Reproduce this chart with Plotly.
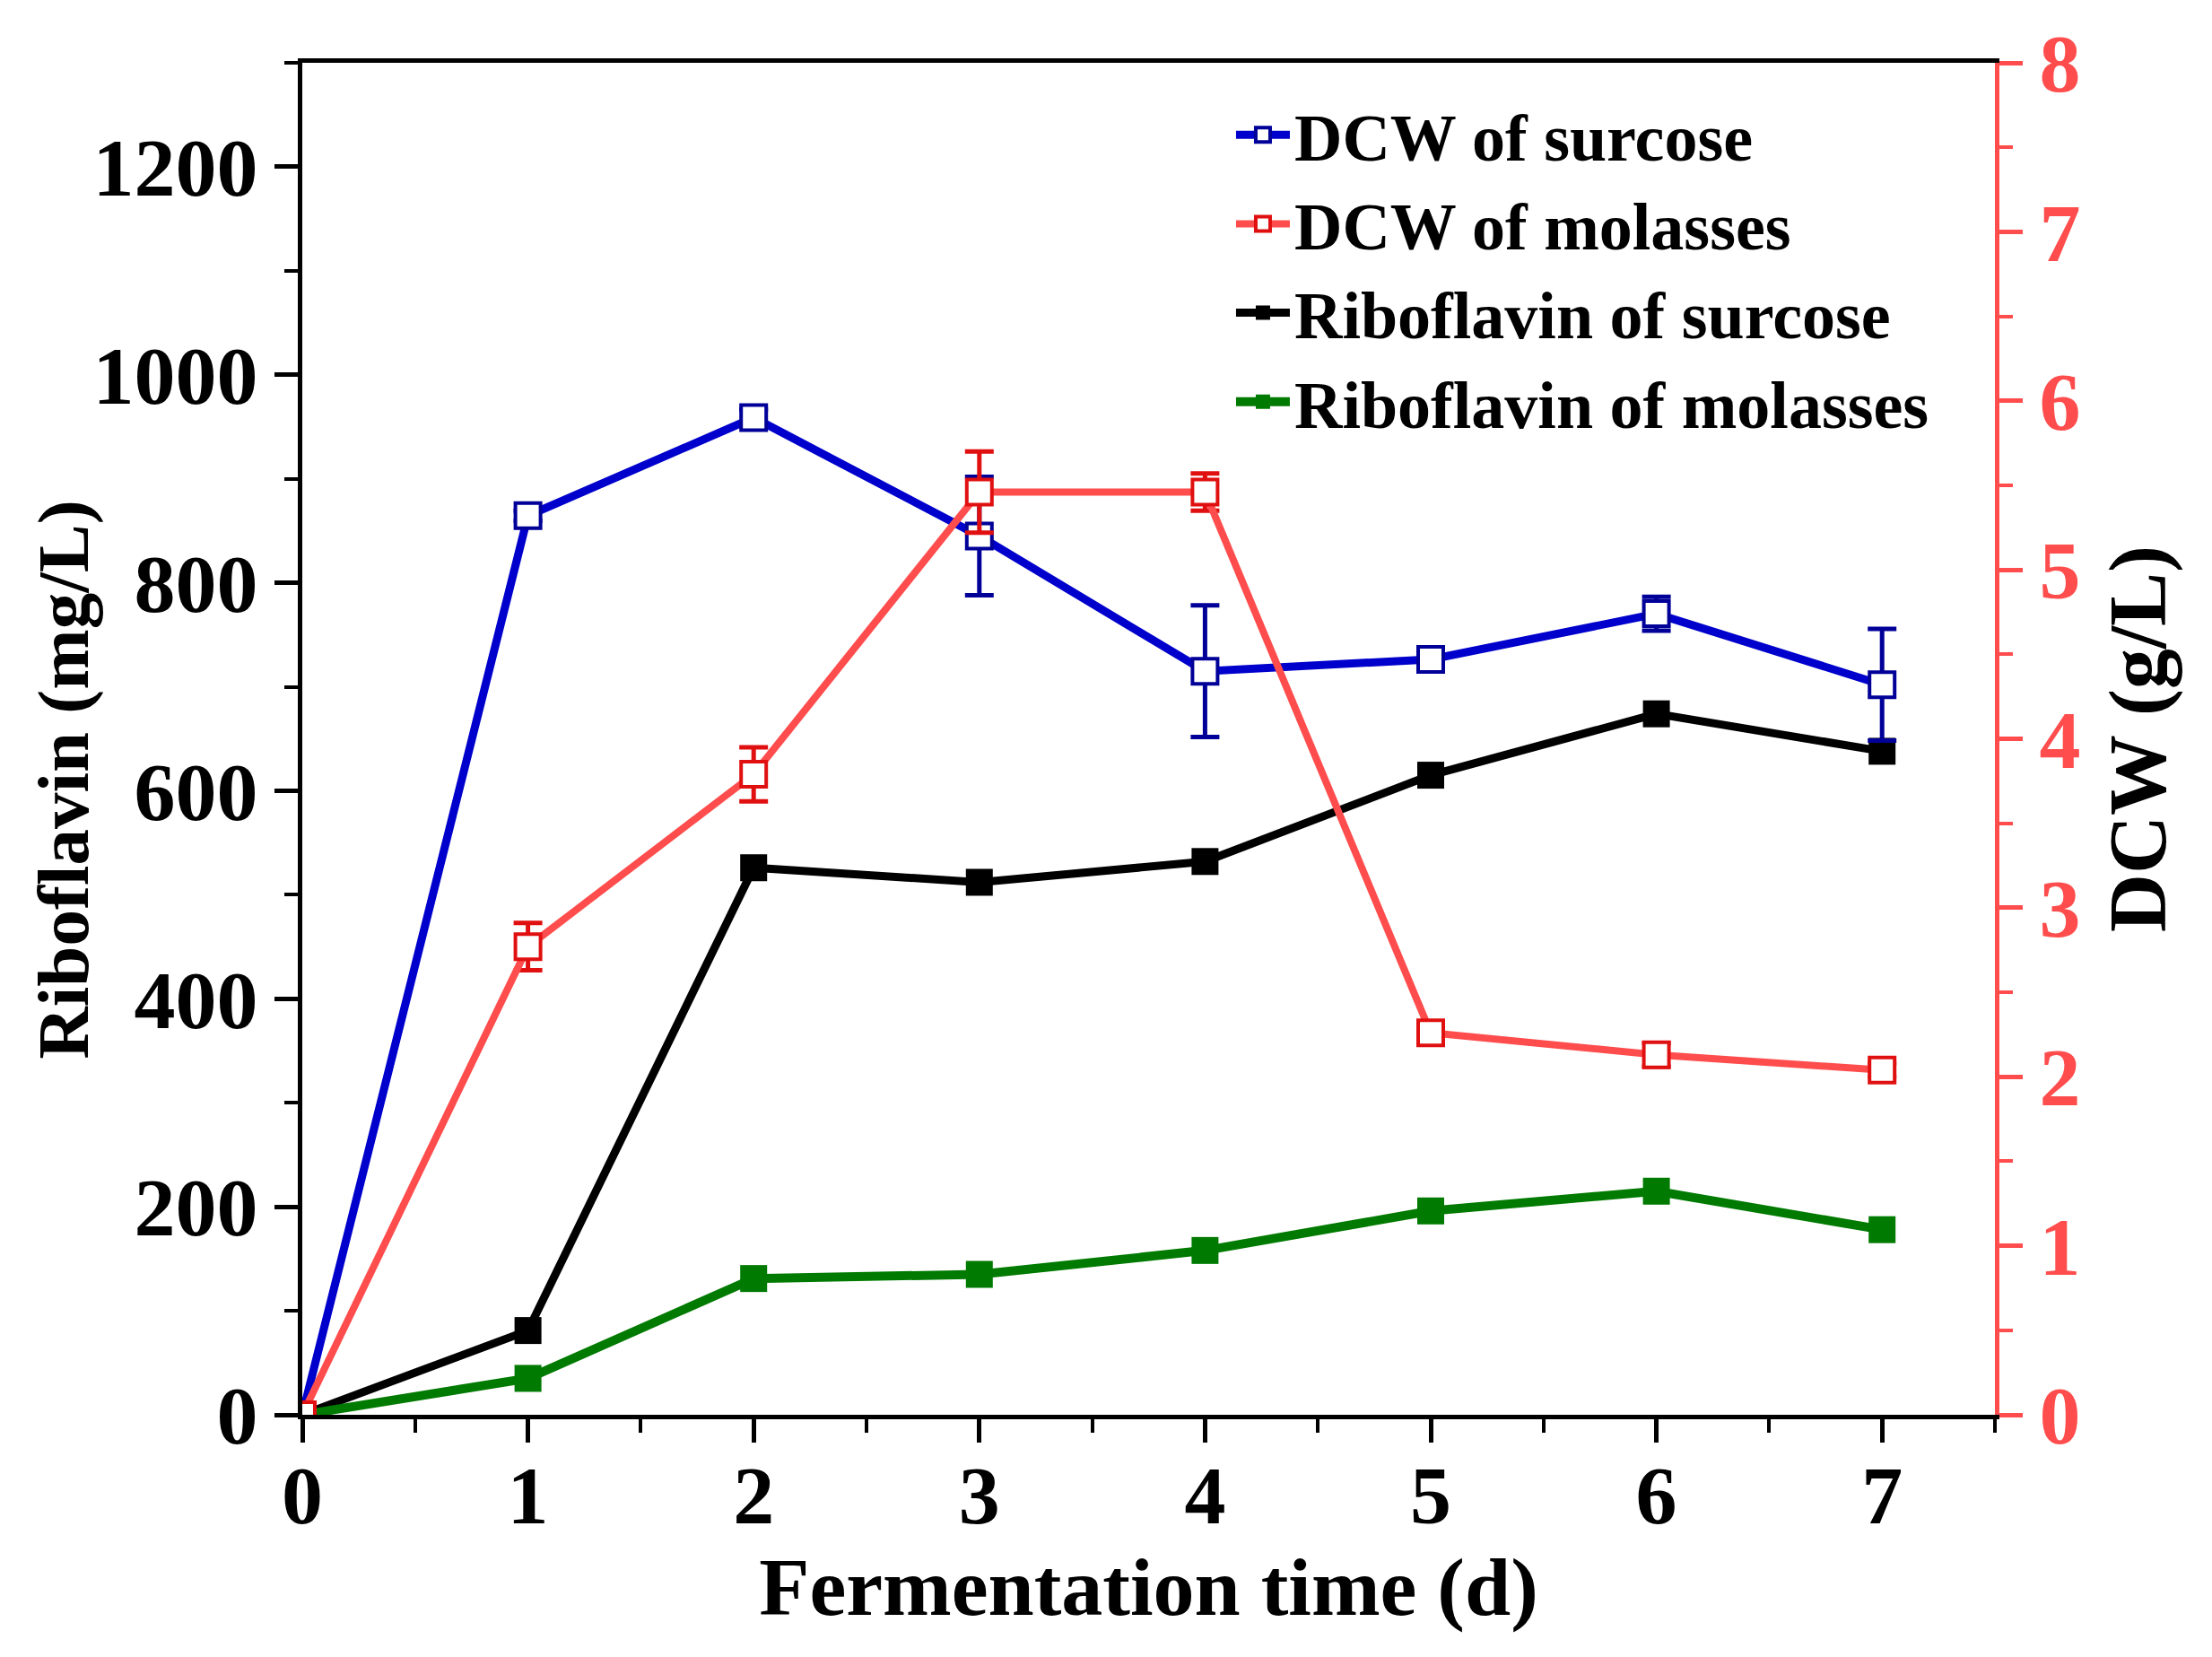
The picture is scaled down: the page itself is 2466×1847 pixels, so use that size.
import plotly.graph_objects as go

# Data
days = [0, 1, 2, 3, 4, 5, 6, 7]

dcw_sucrose = [0, 5.32, 5.90, 5.20, 4.40, 4.47, 4.74, 4.32]
dcw_sucrose_err = [0, 0.03, 0.05, 0.35, 0.39, 0.04, 0.10, 0.33]

dcw_molasses = [0, 2.77, 3.79, 5.46, 5.46, 2.26, 2.13, 2.04]
dcw_molasses_err = [0, 0.14, 0.16, 0.24, 0.11, 0.02, 0.07, 0.04]

ribo_sucrose = [0, 81, 526, 512, 532, 615, 674, 638]
ribo_molasses = [0, 35, 131, 135, 158, 196, 215, 178]

x_ticks = [0, 1, 2, 3, 4, 5, 6, 7]
y1_ticks = [0, 200, 400, 600, 800, 1000, 1200]
y2_ticks = [0, 1, 2, 3, 4, 5, 6, 7, 8]

FONT = "Liberation Serif"
RED = "#FF4D4D"

fig = go.Figure()

fig.add_trace(go.Scatter(
    x=days, y=dcw_sucrose, yaxis="y2", name="DCW of surcose",
    mode="lines+markers",
    line=dict(color="#0000CC", width=9),
    marker=dict(symbol="square", size=28, color="white",
                line=dict(color="#000099", width=4)),
    error_y=dict(type="data", array=dcw_sucrose_err, color="#000099",
                 thickness=5, width=16),
))
fig.add_trace(go.Scatter(
    x=days, y=dcw_molasses, yaxis="y2", name="DCW of molasses",
    mode="lines+markers",
    line=dict(color=RED, width=8),
    marker=dict(symbol="square", size=28, color="white",
                line=dict(color="#E01010", width=4)),
    error_y=dict(type="data", array=dcw_molasses_err, color="#E01010",
                 thickness=5, width=16),
))
fig.add_trace(go.Scatter(
    x=days, y=ribo_sucrose, name="Riboflavin of surcose",
    mode="lines+markers",
    line=dict(color="black", width=9),
    marker=dict(symbol="square", size=30, color="black"),
))
fig.add_trace(go.Scatter(
    x=days, y=ribo_molasses, name="Riboflavin of molasses",
    mode="lines+markers",
    line=dict(color="#007A00", width=10),
    marker=dict(symbol="square", size=30, color="#007A00"),
))

axis_font = dict(family=FONT, size=92, color="black", weight="bold")

fig.update_layout(
    width=2466, height=1847,
    margin=dict(l=329, r=250, t=58, b=278),
    plot_bgcolor="white", paper_bgcolor="white",
    showlegend=True,
    legend=dict(x=0.549, y=0.983, xanchor="left", yanchor="top",
                bgcolor="rgba(0,0,0,0)",
                font=dict(family=FONT, size=74, color="black", weight="bold"),
                itemwidth=60, tracegroupgap=0),
    xaxis=dict(
        range=[0, 7.5], tickvals=x_ticks,
        showgrid=False, zeroline=False,
        showline=True, linecolor="black", linewidth=5, mirror=True,
        ticks="outside", ticklen=26, tickwidth=5, tickcolor="black",
        minor=dict(dtick=0.5, ticks="outside", ticklen=15, tickwidth=4,
                   tickcolor="black", showgrid=False),
        tickfont=axis_font, ticklabelstandoff=-20,
        title=dict(text="Fermentation time (d)",
                   font=dict(family=FONT, size=92, color="black", weight="bold"),
                   standoff=4),
    ),
    yaxis=dict(
        range=[0, 1300], tickvals=y1_ticks,
        showgrid=False, zeroline=False,
        showline=True, linecolor="black", linewidth=5,
        ticks="outside", ticklen=26, tickwidth=5, tickcolor="black",
        minor=dict(dtick=100, ticks="outside", ticklen=15, tickwidth=4,
                   tickcolor="black", showgrid=False),
        tickfont=axis_font,
    ),
    yaxis2=dict(
        range=[0, 8], tickvals=y2_ticks, overlaying="y", side="right",
        showgrid=False, zeroline=False,
        showline=True, linecolor=RED, linewidth=5,
        ticks="outside", ticklen=26, tickwidth=5, tickcolor=RED,
        minor=dict(dtick=0.5, ticks="outside", ticklen=15, tickwidth=4,
                   tickcolor=RED, showgrid=False),
        tickfont=dict(family=FONT, size=92, color=RED, weight="bold"),
        title=dict(text="DCW (g/L)",
                   font=dict(family=FONT, size=90, color="black", weight="bold"),
                   standoff=34),
    ),
)

# left axis title, set a little below centre as in the original
fig.add_annotation(
    text="Riboflavin (mg/L)", textangle=-90, showarrow=False,
    xref="paper", yref="paper", x=-0.141, y=0.47,
    xanchor="center", yanchor="middle",
    font=dict(family=FONT, size=81, color="black", weight="bold"),
)

fig.write_html("out.html")
